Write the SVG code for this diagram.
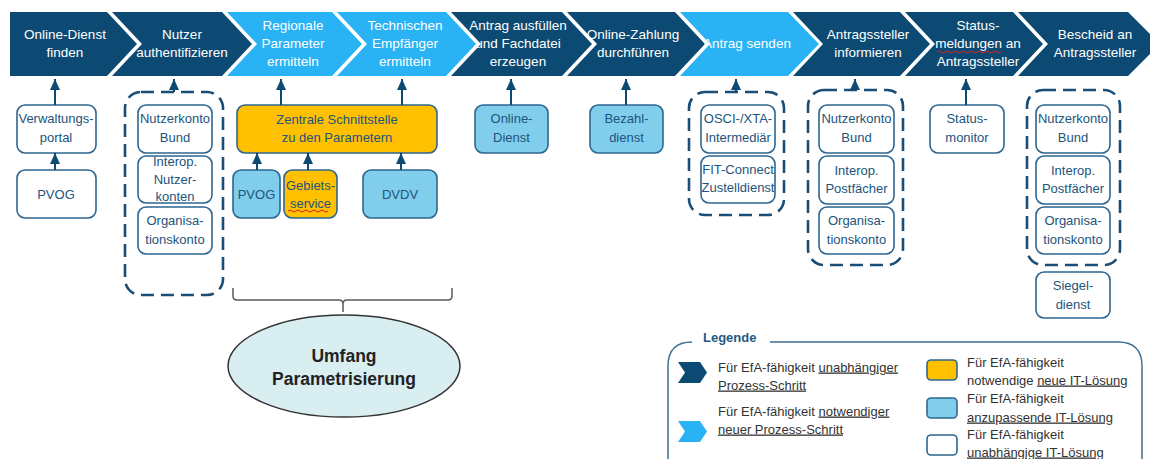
<svg xmlns="http://www.w3.org/2000/svg" width="1150" height="459" viewBox="0 0 1150 459">
<defs>
<style>
.dk{fill:#0c4a73}
.lt{fill:#29b3f5}
.ct{font-family:"Liberation Sans",Arial,sans-serif;font-size:13.5px;fill:#ffffff;text-anchor:middle}
.bx{fill:#ffffff;stroke:#2e6690;stroke-width:1.6}
.bb{fill:#80cdec;stroke:#2e6690;stroke-width:1.6}
.bo{fill:#ffc000;stroke:#2e6690;stroke-width:1.6}
.bt{font-family:"Liberation Sans",Arial,sans-serif;font-size:13px;fill:#22547c;text-anchor:middle}
.dash{fill:none;stroke:#1b4e76;stroke-width:2.6;stroke-dasharray:13 7}
.con{stroke:#0c4a73;stroke-width:2;fill:none}
.lg{font-family:"Liberation Sans",Arial,sans-serif;font-size:13px;fill:#333333}
.wav{fill:none;stroke:#e02020;stroke-width:1}
</style>
<marker id="ah" markerUnits="userSpaceOnUse" markerWidth="12" markerHeight="12" viewBox="0 0 12 12" refX="11" refY="6" orient="auto">
<path d="M0,1 L11,6 L0,11 Z" fill="#0c4a73"/>
</marker>
</defs>
<rect width="1150" height="459" fill="#ffffff"/>

<g id="chevrons">
<g id="step1"><polygon class="dk" points="10,12 107,12 137,44 107,76 10,76"/><text class="ct" x="65" y="39">Online-Dienst</text><text class="ct" x="65" y="57">finden</text></g>
<g id="step2"><polygon class="dk" points="112,12 222,12 252,44 222,76 112,76 142,44"/><text class="ct" x="182" y="39">Nutzer</text><text class="ct" x="182" y="57">authentifizieren</text></g>
<g id="step3"><polygon class="lt" points="227,12 332,12 362,44 332,76 227,76 257,44"/><text class="ct" x="293" y="30">Regionale</text><text class="ct" x="293" y="48">Parameter</text><text class="ct" x="293" y="66">ermitteln</text></g>
<g id="step4"><polygon class="lt" points="337,12 446,12 476,44 446,76 337,76 367,44"/><text class="ct" x="405" y="30">Technischen</text><text class="ct" x="405" y="48">Empfänger</text><text class="ct" x="405" y="66">ermitteln</text></g>
<g id="step5"><polygon class="dk" points="451,12 562,12 592,44 562,76 451,76 481,44"/><text class="ct" x="518" y="30">Antrag ausfüllen</text><text class="ct" x="518" y="48">und Fachdatei</text><text class="ct" x="518" y="66">erzeugen</text></g>
<g id="step6"><polygon class="dk" points="567,12 675,12 705,44 675,76 567,76 597,44"/><text class="ct" x="633" y="39">Online-Zahlung</text><text class="ct" x="633" y="57">durchführen</text></g>
<g id="step7"><polygon class="lt" points="680,12 788,12 819,44 788,76 680,76 710,44"/><text class="ct" x="747" y="48">Antrag senden</text></g>
<g id="step8"><polygon class="dk" points="793,12 900,12 930,44 900,76 793,76 823,44"/><text class="ct" x="868" y="39">Antragssteller</text><text class="ct" x="868" y="57">informieren</text></g>
<g id="step9"><polygon class="dk" points="905,12 1013,12 1043,44 1013,76 905,76 935,44"/><text class="ct" x="978" y="30">Status-</text><text class="ct" x="978" y="48">meldungen an</text><text class="ct" x="978" y="66">Antragssteller</text>
<path class="wav" d="M937,52 q2,-2 4,0 t4,0 t4,0 t4,0 t4,0 t4,0 t4,0 t4,0 t4,0 t4,0 t4,0 t4,0 t4,0 t4,0 t4,0 t4,0"/></g>
<g id="step10"><polygon class="dk" points="1018,12 1128,12 1160,44 1128,76 1018,76 1048,44"/><text class="ct" x="1095" y="39">Bescheid an</text><text class="ct" x="1095" y="57">Antragssteller</text></g>
</g>

<g id="col1">
<g id="verwaltungsportal"><rect class="bx" x="17" y="105" width="79" height="48" rx="8"/><text class="bt" x="56" y="123">Verwaltungs-</text><text class="bt" x="56" y="142">portal</text></g>
<g id="pvog1"><rect class="bx" x="17" y="170" width="79" height="48" rx="8"/><text class="bt" x="56" y="198.5">PVOG</text></g>
</g>

<g id="col2">
<rect id="group2" class="dash" x="125" y="92" width="98" height="203" rx="16"/>
<g id="nutzerkonto1"><rect class="bx" x="138" y="105" width="74" height="48" rx="8"/><text class="bt" x="175" y="123">Nutzerkonto</text><text class="bt" x="175" y="142">Bund</text></g>
<g id="interop1"><rect class="bx" x="138" y="156" width="74" height="47" rx="8"/><text class="bt" x="175" y="166">Interop.</text><text class="bt" x="175" y="183.5">Nutzer-</text><text class="bt" x="175" y="200.5">konten</text></g>
<g id="orgkonto1"><rect class="bx" x="138" y="207" width="74" height="47" rx="8"/><text class="bt" x="175" y="225">Organisa-</text><text class="bt" x="175" y="244">tionskonto</text></g>
</g>

<g id="col3">
<g id="zentrale"><rect class="bo" x="237" y="105" width="200" height="48" rx="8"/><text class="bt" x="337" y="123.5">Zentrale Schnittstelle</text><text class="bt" x="337" y="141.5">zu den Parametern</text></g>
<g id="pvog2"><rect class="bb" x="233" y="170" width="47" height="48" rx="8"/><text class="bt" x="256.5" y="198.5">PVOG</text></g>
<g id="gebiet"><rect class="bo" x="284" y="170" width="53" height="48" rx="8"/><text class="bt" x="310.5" y="190">Gebiets-</text><text class="bt" x="310.5" y="207.5">service</text>
<path class="wav" d="M288,211 q2,-2 4,0 t4,0 t4,0 t4,0 t4,0 t4,0 t4,0 t4,0 t4,0 t4,0"/></g>
<g id="dvdv"><rect class="bb" x="363" y="170" width="74" height="48" rx="8"/><text class="bt" x="400" y="198.5">DVDV</text></g>
</g>

<g id="scope">
<path d="M233,288 V296 Q233,300 237,300 H339 Q343,300 343,304 V312 M343,304 Q343,300 347,300 H448 Q452,300 452,296 V288" fill="none" stroke="#5a5a5a" stroke-width="1.5"/>
<ellipse cx="344" cy="366" rx="116" ry="51" fill="#d8eef1" stroke="#333333" stroke-width="1.5"/>
<text x="344" y="362" font-family="Liberation Sans,Arial,sans-serif" font-size="17.5" font-weight="bold" fill="#222222" text-anchor="middle">Umfang</text>
<text x="344" y="385" font-family="Liberation Sans,Arial,sans-serif" font-size="17.5" font-weight="bold" fill="#222222" text-anchor="middle">Parametrisierung</text>
</g>

<g id="col5"><rect class="bb" x="475" y="105" width="73" height="48" rx="8"/><text class="bt" x="511.5" y="123">Online-</text><text class="bt" x="511.5" y="142">Dienst</text></g>
<g id="col6"><rect class="bb" x="590" y="105" width="73" height="48" rx="8"/><text class="bt" x="626.5" y="123">Bezahl-</text><text class="bt" x="626.5" y="142">dienst</text></g>

<g id="col7">
<rect class="dash" x="689" y="92" width="95" height="123" rx="16"/>
<g id="osci"><rect class="bx" x="701" y="105" width="74" height="48" rx="8"/><text class="bt" x="738" y="123">OSCI-/XTA-</text><text class="bt" x="738" y="142">Intermediär</text></g>
<g id="fit"><rect class="bx" x="701" y="156" width="74" height="47" rx="8"/><text class="bt" x="738" y="174">FIT-Connect</text><text class="bt" x="738" y="192">Zustelldienst</text></g>
</g>

<g id="col8">
<rect class="dash" x="808" y="90" width="95" height="175" rx="16"/>
<g id="nutzerkonto2"><rect class="bx" x="819" y="105" width="75" height="48" rx="8"/><text class="bt" x="856.5" y="123">Nutzerkonto</text><text class="bt" x="856.5" y="142">Bund</text></g>
<g id="postfach1"><rect class="bx" x="819" y="156" width="75" height="48" rx="8"/><text class="bt" x="856.5" y="175">Interop.</text><text class="bt" x="856.5" y="193">Postfächer</text></g>
<g id="orgkonto2"><rect class="bx" x="819" y="207" width="75" height="47" rx="8"/><text class="bt" x="856.5" y="225">Organisa-</text><text class="bt" x="856.5" y="244">tionskonto</text></g>
</g>

<g id="col9"><rect class="bx" x="930" y="105" width="74" height="48" rx="8"/><text class="bt" x="967" y="123">Status-</text><text class="bt" x="967" y="142">monitor</text></g>

<g id="col10">
<rect class="dash" x="1027" y="90" width="93" height="175" rx="16"/>
<g id="nutzerkonto3"><rect class="bx" x="1036" y="105" width="74" height="48" rx="8"/><text class="bt" x="1073" y="123">Nutzerkonto</text><text class="bt" x="1073" y="142">Bund</text></g>
<g id="postfach2"><rect class="bx" x="1036" y="156" width="74" height="48" rx="8"/><text class="bt" x="1073" y="175">Interop.</text><text class="bt" x="1073" y="193">Postfächer</text></g>
<g id="orgkonto3"><rect class="bx" x="1036" y="207" width="74" height="47" rx="8"/><text class="bt" x="1073" y="225">Organisa-</text><text class="bt" x="1073" y="244">tionskonto</text></g>
<g id="siegel"><rect class="bx" x="1036" y="272" width="74" height="46" rx="8"/><text class="bt" x="1073" y="290">Siegel-</text><text class="bt" x="1073" y="309">dienst</text></g>
</g>

<g id="connectors">
<line class="con" x1="55" y1="105" x2="55" y2="79" marker-end="url(#ah)"/>
<line class="con" x1="55" y1="170" x2="55" y2="153" marker-end="url(#ah)"/>
<line class="con" x1="174" y1="92" x2="174" y2="79" marker-end="url(#ah)"/>
<line class="con" x1="281" y1="105" x2="281" y2="79" marker-end="url(#ah)"/>
<line class="con" x1="402" y1="105" x2="402" y2="79" marker-end="url(#ah)"/>
<line class="con" x1="257" y1="170" x2="257" y2="153" marker-end="url(#ah)"/>
<line class="con" x1="308" y1="170" x2="308" y2="153" marker-end="url(#ah)"/>
<line class="con" x1="401" y1="170" x2="401" y2="153" marker-end="url(#ah)"/>
<line class="con" x1="511" y1="105" x2="511" y2="79" marker-end="url(#ah)"/>
<line class="con" x1="626" y1="105" x2="626" y2="79" marker-end="url(#ah)"/>
<line class="con" x1="736" y1="92" x2="736" y2="79" marker-end="url(#ah)"/>
<line class="con" x1="855" y1="90" x2="855" y2="79" marker-end="url(#ah)"/>
<line class="con" x1="966" y1="105" x2="966" y2="79" marker-end="url(#ah)"/>
</g>

<g id="legend">
<path d="M770,342 H1118 Q1142,342 1142,366 V475 M668,475 V366 Q668,342 692,342" fill="none" stroke="#3d6f94" stroke-width="1.5"/>
<text x="703" y="342" font-family="Liberation Sans,Arial,sans-serif" font-size="13" font-weight="bold" fill="#1f5a85">Legende</text>
<polygon class="dk" points="678,362 700,362 707,372.5 700,383 678,383 685,372.5"/>
<text class="lg" x="718" y="371.5">Für EfA-fähigkeit <tspan text-decoration="underline">unabhängiger</tspan></text>
<text class="lg" x="718" y="389.5" text-decoration="underline">Prozess-Schritt</text>
<polygon class="lt" points="678,421 700,421 707,431.5 700,442 678,442 685,431.5"/>
<text class="lg" x="718" y="415.5">Für EfA-fähigkeit <tspan text-decoration="underline">notwendiger</tspan></text>
<text class="lg" x="718" y="433.5" text-decoration="underline">neuer Prozess-Schritt</text>
<rect class="bo" x="927" y="360" width="30" height="20" rx="4"/>
<text class="lg" x="967" y="366.5">Für EfA-fähigkeit</text>
<text class="lg" x="967" y="384.5">notwendige <tspan text-decoration="underline">neue IT-Lösung</tspan></text>
<rect class="bb" x="927" y="398" width="30" height="20" rx="4"/>
<text class="lg" x="967" y="402.5">Für EfA-fähigkeit</text>
<text class="lg" x="967" y="421.5" text-decoration="underline">anzupassende IT-Lösung</text>
<rect class="bx" x="927" y="435" width="30" height="20" rx="4"/>
<text class="lg" x="967" y="438.5">Für EfA-fähigkeit</text>
<text class="lg" x="967" y="456.5" text-decoration="underline">unabhängige IT-Lösung</text>
</g>
</svg>
